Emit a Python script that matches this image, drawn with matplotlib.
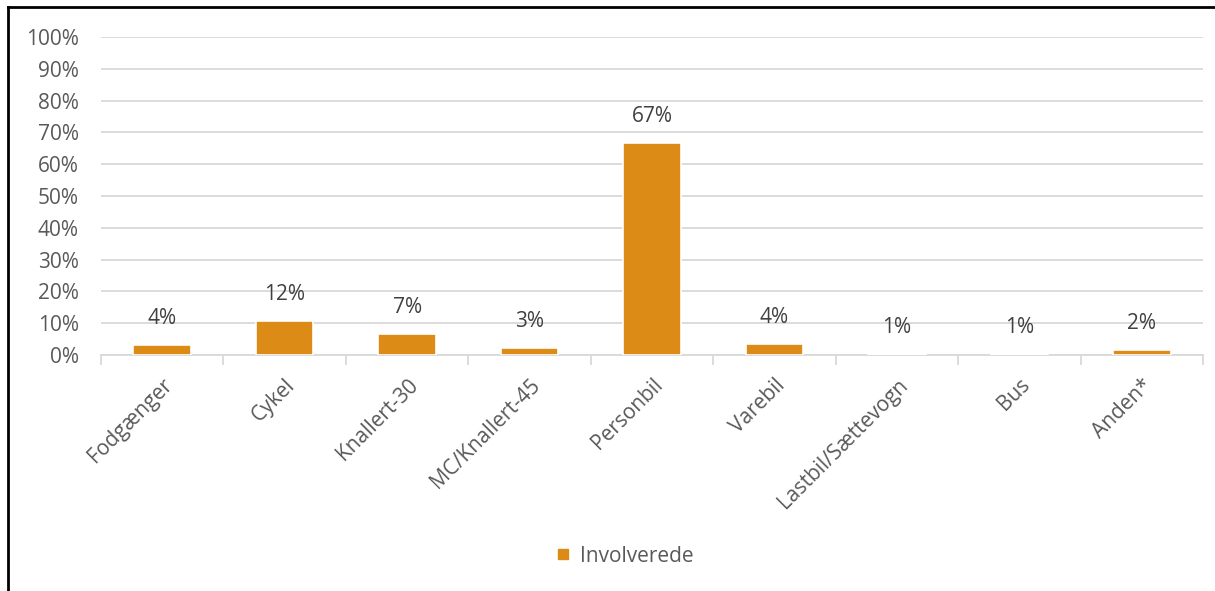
import numpy as np
import matplotlib.pyplot as plt
from matplotlib.lines import Line2D

# data
categories = ['Fodgænger', 'Cykel', 'Knallert-30', 'MC/Knallert-45', 'Personbil',
              'Varebil', 'Lastbil/Sættevogn', 'Bus', 'Anden*']
values = [3.1, 10.8, 6.6, 2.2, 66.7, 3.5, 0.3, 0.3, 1.5]
labels = ['4%', '12%', '7%', '3%', '67%', '4%', '1%', '1%', '2%']
series_name = 'Involverede'

BAR = '#DB8B16'
GRID = '#D9D9D9'
TXT = '#595959'
FS = 15

plt.rcParams['font.family'] = ['Open Sans', 'DejaVu Sans']

fig = plt.figure(figsize=(12.15, 5.91), dpi=100)
ax = fig.add_axes([101 / 1215, 1 - 355 / 591, 1102 / 1215, 318 / 591])

x = np.arange(len(categories))
ax.bar(x, values, width=0.47, color=BAR, edgecolor='white', linewidth=1.2, zorder=3)

# labels sit a fixed distance above each bar
for xi, v, lab in zip(x, values, labels):
    ax.annotate(lab, (xi, v), xytext=(0, 19), textcoords='offset points',
                ha='center', va='center', fontsize=FS, color='#404040')

ax.set_xlim(-0.5, len(categories) - 0.5)
ax.set_ylim(0, 100)
ax.set_yticks(np.arange(0, 101, 10))
ax.set_yticklabels([f'{t}%' for t in range(0, 101, 10)])
ax.yaxis.grid(True, color=GRID, linewidth=1.3, zorder=0)
ax.tick_params(axis='y', length=0, labelsize=FS, labelcolor=TXT, pad=16)

ax.set_xticks(x)
ax.set_xticklabels(categories, rotation=45, ha='right', rotation_mode='anchor')
ax.set_xticks(np.arange(-0.5, len(categories)), minor=True)
ax.tick_params(axis='x', which='major', length=0, labelsize=FS, labelcolor=TXT, pad=14)
ax.tick_params(axis='x', which='minor', length=7, color=GRID, width=1.3)

for s in ['top', 'right', 'left']:
    ax.spines[s].set_visible(False)
ax.spines['bottom'].set_color(GRID)
ax.spines['bottom'].set_linewidth(1.3)

handle = Line2D([], [], marker='s', linestyle='none', color=BAR, markersize=7)
fig.legend([handle], [series_name], loc='center', bbox_to_anchor=(618 / 1215, 1 - 556 / 591),
           frameon=False, fontsize=FS, labelcolor=TXT, handletextpad=-0.2)

# outer chart border (left and top visible)
fig.add_artist(Line2D([8 / 1215, 8 / 1215], [0, 1 - 7 / 591], transform=fig.transFigure,
                      color='black', linewidth=2))
fig.add_artist(Line2D([8 / 1215, 1], [1 - 7 / 591, 1 - 7 / 591], transform=fig.transFigure,
                      color='black', linewidth=2))

fig.savefig('out.png', dpi=100)
